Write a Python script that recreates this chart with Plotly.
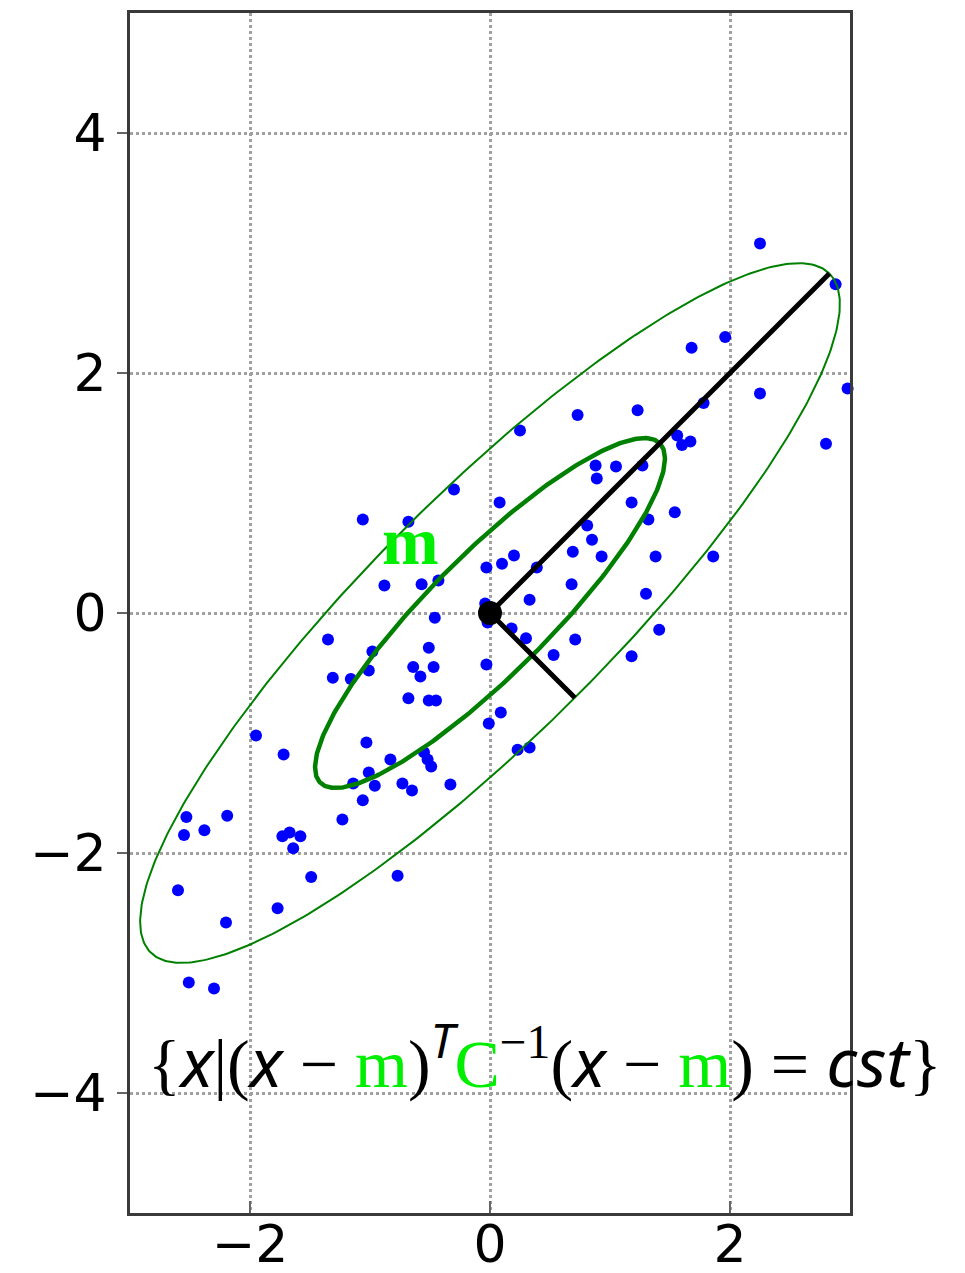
import numpy as np
import plotly.graph_objects as go

# ---- data ----
pts_x = [2.25, 2.88, 1.96, 1.68, 2.98, 2.25, 1.78, 1.23, 0.73, 0.25,
         2.80, 1.56, 1.67, 1.60, 0.88, 1.05, 1.27, 0.89, -0.30, 0.08,
         -1.06, -0.68, -0.03, 0.10, -0.88, -0.57, -0.43, -0.04, -0.02, -0.46,
         -1.35, -0.98, -0.51, -1.01, -0.64, -0.47, -0.03, -1.31, -1.16, -0.58,
         1.18, 1.54, 1.32, 0.81, 0.85, 0.69, 0.93, 1.38, 1.86, 0.20,
         0.39, 0.68, 1.30, 0.33, 0.18, 0.30, 0.71, 1.41, 0.53, 1.18,
         -0.68, -0.51, -0.45, 0.09, -0.01, -1.95, -1.72, -1.03, -0.83, -0.55,
         -0.52, -0.49, -1.01, -1.14, -0.96, -0.73, -0.65, -0.33, -1.06, -1.23,
         -2.53, -2.19, -2.55, -2.38, -1.73, -1.67, -1.58, -1.64, 0.23, 0.33,
         -1.49, -2.60, -1.77, -2.20, -3.18, -2.51, -2.30, -3.59, -0.77]
pts_y = [3.08, 2.74, 2.30, 2.21, 1.87, 1.83, 1.75, 1.69, 1.65, 1.52,
         1.41, 1.48, 1.43, 1.40, 1.23, 1.22, 1.23, 1.12, 1.03, 0.92,
         0.78, 0.76, 0.38, 0.41, 0.23, 0.24, 0.27, 0.08, -0.08, -0.04,
         -0.22, -0.32, -0.29, -0.48, -0.45, -0.45, -0.43, -0.54, -0.55, -0.53,
         0.92, 0.84, 0.78, 0.73, 0.61, 0.51, 0.47, 0.47, 0.47, 0.48,
         0.38, 0.24, 0.16, 0.11, -0.13, -0.21, -0.22, -0.14, -0.35, -0.36,
         -0.71, -0.73, -0.73, -0.83, -0.92, -1.02, -1.18, -1.08, -1.22, -1.16,
         -1.22, -1.28, -1.33, -1.42, -1.44, -1.42, -1.48, -1.43, -1.56, -1.72,
         -1.70, -1.69, -1.85, -1.81, -1.86, -1.83, -1.86, -1.96, -1.14, -1.12,
         -2.20, -2.31, -2.46, -2.58, -2.86, -3.08, -3.13, -4.14, -2.19]

mean_xy = [0.0, 0.0]
axis_angle_deg = 45.0
sigma_major = 2.0
sigma_minor = 0.5
contour_levels = [1.0, 2.0]          # inner and outer ellipse (in sigmas)
contour_widths = [4.5, 2.0]

x_ticks = [-2, 0, 2]
x_tick_labels = ["\u22122", "0", "2"]
y_ticks = [-4, -2, 0, 2, 4]
y_tick_labels = ["\u22124", "\u22122", "0", "2", "4"]

GREEN = "#008000"
LIME = "#00ee00"

fig = go.Figure()

fig.add_trace(go.Scatter(x=pts_x, y=pts_y, mode="markers",
                         marker=dict(color="#0000ff", size=12, line=dict(width=0)),
                         cliponaxis=False, hoverinfo="skip"))

th = np.deg2rad(axis_angle_deg)
t = np.linspace(0, 2 * np.pi, 400)
for k, w in zip(contour_levels, contour_widths):
    a, b = k * sigma_major, k * sigma_minor
    ex = mean_xy[0] + a * np.cos(t) * np.cos(th) - b * np.sin(t) * np.sin(th)
    ey = mean_xy[1] + a * np.cos(t) * np.sin(th) + b * np.sin(t) * np.cos(th)
    fig.add_trace(go.Scatter(x=ex, y=ey, mode="lines",
                             line=dict(color=GREEN, width=w), hoverinfo="skip"))

# principal axes (outer contour)
kmax = max(contour_levels)
for length, ang in [(kmax * sigma_major, th), (kmax * sigma_minor, th - np.pi / 2)]:
    fig.add_trace(go.Scatter(x=[mean_xy[0], mean_xy[0] + length * np.cos(ang)],
                             y=[mean_xy[1], mean_xy[1] + length * np.sin(ang)],
                             mode="lines", line=dict(color="black", width=5),
                             hoverinfo="skip"))

fig.add_trace(go.Scatter(x=[mean_xy[0]], y=[mean_xy[1]], mode="markers",
                         marker=dict(color="black", size=24), hoverinfo="skip"))

axis_common = dict(showgrid=True, gridcolor="#a0a0a0", griddash="dot", gridwidth=2.5,
                   showline=True, linecolor="#3a3a3a", linewidth=3, mirror=True,
                   zeroline=False, tickcolor="#666666", tickwidth=2, automargin=False,
                   tickfont=dict(family="DejaVu Sans", size=52, color="black"))

fig.update_xaxes(range=[-3, 3], tickvals=x_ticks, ticktext=x_tick_labels,
                 ticks="inside", ticklen=12, ticklabelstandoff=-16, **axis_common)
fig.update_yaxes(range=[-5, 5], tickvals=y_ticks, ticktext=y_tick_labels,
                 ticks="outside", ticklen=10, **axis_common)

fig.add_annotation(x=-0.66, y=0.60, text="<b>m</b>", showarrow=False,
                   font=dict(family="Liberation Serif", size=68, color=LIME))

gm = "<span style='color:%s;font-family:Liberation Serif'>m</span>" % LIME
gC = "<span style='color:%s;font-family:Liberation Serif'>C</span>" % LIME
ix = "<span style='font-family:Noto Sans'><i>x</i></span>"
formula = ("{" + ix + "|(" + ix + " \u2212 " + gm + ")<sup><span style='font-family:Noto Sans'><i>T</i></span></sup>"
           + gC + "<sup>\u22121</sup>(" + ix + " \u2212 " + gm + ") = "
           + "<span style='font-family:Noto Sans'><i>cst</i></span>}")
fig.add_annotation(x=-2.87, y=-3.70, xanchor="left", yanchor="middle",
                   text=formula, showarrow=False,
                   font=dict(family="Liberation Serif", size=68, color="black"))

# page body adds an 8px offset; margins compensate so the frame sits at 130..850 / 13..1213
fig.update_layout(width=957, height=1265,
                  margin=dict(l=122, r=115, t=5, b=60, pad=0),
                  plot_bgcolor="white", paper_bgcolor="white",
                  showlegend=False)

fig.write_html("out.html")
